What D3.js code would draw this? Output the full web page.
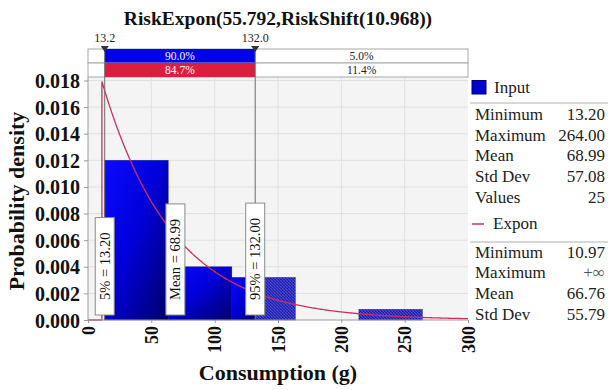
<!DOCTYPE html>
<html>
<head>
<meta charset="utf-8">
<script src="https://cdn.jsdelivr.net/npm/d3@7"></script>
<style>
  html, body { margin: 0; padding: 0; background: #fff; }
  svg { display: block; font-family: "Liberation Serif", "Times New Roman", serif; }
</style>
</head>
<body>
<svg id="chart" width="608" height="390"></svg>
<script>
// Histogram bins of the input sample (density per bin)
const binEdges = [13.2, 63.36, 113.52, 163.68, 213.84, 264.0];
const binDensity = [0.0120, 0.0040, 0.0032, 0.0, 0.0008];

// Fitted exponential: RiskExpon(beta) shifted by RiskShift(shift)
const expBeta = 55.792;
const expShift = 10.968;

// Percentile markers and band percentages
const markers = [
  { value: 13.2, top: "13.2", box: "5% = 13.20" },
  { value: 132.0, top: "132.0", box: "95% = 132.00" }
];
const meanValue = 68.99;
const meanLabel = "Mean = 68.99";
const inputBand = ["5.0%", "90.0%", "5.0%"];
const fitBand = ["3.9%", "84.7%", "11.4%"];

// Axis ticks
const xTicks = [0, 50, 100, 150, 200, 250, 300];
const yTicks = [0, 0.002, 0.004, 0.006, 0.008, 0.010, 0.012, 0.014, 0.016, 0.018];

// Legend statistics
const inputStats = [["Minimum", "13.20"], ["Maximum", "264.00"], ["Mean", "68.99"], ["Std Dev", "57.08"], ["Values", "25"]];
const fitStats = [["Minimum", "10.97"], ["Maximum", "+\u221E"], ["Mean", "66.76"], ["Std Dev", "55.79"]];

const svg = d3.select("#chart");
const x = d3.scaleLinear().domain([0, 300]).range([88, 468]);
const y = d3.scaleLinear().domain([0, 0.018]).range([320, 80.5]);
const plotTop = 77;

const defs = svg.append("defs");
const grad = defs.append("linearGradient").attr("id", "barGrad")
  .attr("x1", 0).attr("y1", 0).attr("x2", 1).attr("y2", 1);
grad.append("stop").attr("offset", 0).attr("stop-color", "#0a0aff");
grad.append("stop").attr("offset", 0.45).attr("stop-color", "#0000dc");
grad.append("stop").attr("offset", 1).attr("stop-color", "#00006a");

const pat = defs.append("pattern").attr("id", "hatch")
  .attr("patternUnits", "userSpaceOnUse").attr("width", 3).attr("height", 3);
pat.append("rect").attr("width", 3).attr("height", 3).attr("fill", "#2c2cc0");
pat.append("path").attr("d", "M0,3 L3,0 M-1,1 L1,-1 M2,4 L4,2").attr("stroke", "#1a1a8a").attr("stroke-width", 0.8);
pat.append("path").attr("d", "M0,0 L3,3").attr("stroke", "#5a5ae6").attr("stroke-width", 0.7);

// Title
svg.append("text").attr("x", 278).attr("y", 25).attr("text-anchor", "middle")
  .attr("font-size", 19.5).attr("font-weight", "bold").attr("fill", "#111")
  .text("RiskExpon(55.792,RiskShift(10.968))");

// Plot background and grid
svg.append("rect").attr("x", x(0)).attr("y", plotTop).attr("width", x(300) - x(0)).attr("height", y(0) - plotTop)
  .attr("fill", "#f4f4f4");
svg.append("g").selectAll("line").data(xTicks.slice(1, -1)).join("line")
  .attr("x1", d => x(d)).attr("x2", d => x(d)).attr("y1", plotTop).attr("y2", y(0))
  .attr("stroke", "#e0e0e0").attr("stroke-width", 1);
svg.append("g").selectAll("line").data(yTicks.slice(1)).join("line")
  .attr("x1", x(0)).attr("x2", x(300)).attr("y1", d => y(d)).attr("y2", d => y(d))
  .attr("stroke", "#e0e0e0").attr("stroke-width", 1);

// Histogram bars
const bins = binDensity.map((d, i) => ({ x0: binEdges[i], x1: binEdges[i + 1], d }));
const lo = markers[0].value, hi = markers[1].value;
const barG = svg.append("g");
bins.filter(b => b.d > 0).forEach(b => {
  const a = Math.max(b.x0, lo), c = Math.min(b.x1, hi);
  if (c > a) {
    barG.append("rect").attr("x", x(a)).attr("y", y(b.d)).attr("width", x(c) - x(a)).attr("height", y(0) - y(b.d))
      .attr("fill", "url(#barGrad)");
  }
  if (b.x1 > hi) {
    const s = Math.max(b.x0, hi);
    barG.append("rect").attr("x", x(s)).attr("y", y(b.d)).attr("width", x(b.x1) - x(s)).attr("height", y(0) - y(b.d))
      .attr("fill", "url(#hatch)");
  }
  barG.append("rect").attr("x", x(b.x0)).attr("y", y(b.d)).attr("width", x(b.x1) - x(b.x0)).attr("height", y(0) - y(b.d))
    .attr("fill", "none").attr("stroke", "#000060").attr("stroke-width", 0.6).attr("stroke-opacity", 0.6);
});

// Fitted density curve
const pdf = v => v < expShift ? 0 : Math.exp(-(v - expShift) / expBeta) / expBeta;
const curvePts = [[0, 0], [expShift, 0], [expShift, pdf(expShift)]];
for (let v = expShift; v <= 300; v += 1) curvePts.push([v, pdf(v)]);
curvePts.push([300, pdf(300)]);
svg.append("path").datum(curvePts)
  .attr("d", d3.line().x(d => x(d[0])).y(d => y(d[1])))
  .attr("fill", "none").attr("stroke", "#c8325c").attr("stroke-width", 1.3);

// Axes
svg.append("line").attr("x1", x(0)).attr("x2", x(0)).attr("y1", plotTop).attr("y2", y(0)).attr("stroke", "#9a9a9a");
svg.append("line").attr("x1", x(0)).attr("x2", x(300)).attr("y1", y(0)).attr("y2", y(0)).attr("stroke", "#9a9a9a");
const yAxis = svg.append("g").attr("transform", `translate(${x(0)},0)`)
  .call(d3.axisLeft(y).tickValues(yTicks).tickFormat(d3.format(".3f")).tickSize(4));
yAxis.select(".domain").remove();
yAxis.selectAll("line").attr("stroke", "#9a9a9a");
yAxis.selectAll("text").attr("font-family", "Liberation Serif").attr("font-size", 20).attr("font-weight", "bold")
  .attr("fill", "#111").attr("x", -8).attr("dy", "0.35em");

const xAxis = svg.append("g").attr("transform", `translate(0,${y(0)})`)
  .call(d3.axisBottom(x).tickValues(xTicks).tickFormat(d3.format("d")).tickSize(3));
xAxis.select(".domain").remove();
xAxis.selectAll("line").attr("stroke", "#9a9a9a");
xAxis.selectAll("text").attr("font-family", "Liberation Serif").attr("font-size", 18).attr("font-weight", "bold")
  .attr("fill", "#111").attr("text-anchor", "end").attr("dy", "0.35em")
  .attr("transform", "rotate(-90)").attr("x", -6).attr("y", 0);

svg.append("text").attr("transform", "translate(24,201) rotate(-90)").attr("text-anchor", "middle")
  .attr("font-size", 22).attr("font-weight", "bold").attr("fill", "#111").text("Probability density");
svg.append("text").attr("x", 278).attr("y", 380).attr("text-anchor", "middle")
  .attr("font-size", 22).attr("font-weight", "bold").attr("fill", "#111").text("Consumption (g)");

// Percentile bands above the plot
const bandRows = [
  { y0: 49, vals: inputBand, fill: "#0000ee" },
  { y0: 63, vals: fitBand, fill: "#dc1e3e" }
];
const bandH = 14;
bandRows.forEach(r => {
  svg.append("rect").attr("x", x(0)).attr("y", r.y0).attr("width", x(300) - x(0)).attr("height", bandH)
    .attr("fill", "#fff").attr("stroke", "#a8a8a8");
  svg.append("rect").attr("x", x(lo)).attr("y", r.y0).attr("width", x(hi) - x(lo)).attr("height", bandH)
    .attr("fill", r.fill);
  svg.append("text").attr("x", (x(lo) + x(hi)) / 2).attr("y", r.y0 + 11).attr("text-anchor", "middle")
    .attr("font-size", 11.5).attr("fill", "#fff").text(r.vals[1]);
  svg.append("text").attr("x", (x(hi) + x(300)) / 2).attr("y", r.y0 + 11).attr("text-anchor", "middle")
    .attr("font-size", 11.5).attr("fill", "#222").text(r.vals[2]);
});

// Marker lines, triangles and labels
markers.forEach(m => {
  svg.append("line").attr("x1", x(m.value)).attr("x2", x(m.value)).attr("y1", 47).attr("y2", y(0))
    .attr("stroke", "#6a6a6a").attr("stroke-width", 1);
  svg.append("path").attr("d", `M${x(m.value) - 4},46 L${x(m.value) + 4},46 L${x(m.value)},52 Z`).attr("fill", "#333");
  svg.append("text").attr("x", x(m.value)).attr("y", 42).attr("text-anchor", "middle")
    .attr("font-size", 12).attr("fill", "#222").text(m.top);
});

// Rotated value boxes
const boxes = [
  { value: markers[0].value, label: markers[0].box },
  { value: meanValue, label: meanLabel },
  { value: markers[1].value, label: markers[1].box }
];
boxes.forEach(b => {
  const g = svg.append("g");
  const bottom = 315, w = 19;
  const t = g.append("text").attr("font-size", 14.5).attr("fill", "#111").text(b.label);
  const len = t.node().getComputedTextLength();
  const h = len + 30;
  g.insert("rect", "text").attr("x", x(b.value) - w / 2).attr("y", bottom - h).attr("width", w).attr("height", h)
    .attr("fill", "#fff").attr("stroke", "#8a8a8a").attr("stroke-width", 1);
  t.attr("text-anchor", "middle").attr("dy", "0.35em")
    .attr("transform", `translate(${x(b.value)},${bottom - h / 2}) rotate(-90)`);
});

// Legend
const lg = svg.append("g");
lg.append("rect").attr("x", 472).attr("y", 80.5).attr("width", 14).attr("height", 13.5)
  .attr("fill", "#0000d0").attr("stroke", "#000070");
lg.append("text").attr("x", 494).attr("y", 93).attr("font-size", 17).attr("fill", "#222").text("Input");
lg.append("line").attr("x1", 470).attr("x2", 608).attr("y1", 103).attr("y2", 103).attr("stroke", "#b0b0b0");
inputStats.forEach((s, i) => {
  const yy = 120 + i * 20.7;
  lg.append("text").attr("x", 475).attr("y", yy).attr("font-size", 17).attr("fill", "#222").text(s[0]);
  lg.append("text").attr("x", 605).attr("y", yy).attr("text-anchor", "end").attr("font-size", 17).attr("fill", "#222").text(s[1]);
});
lg.append("line").attr("x1", 472).attr("x2", 484).attr("y1", 224).attr("y2", 224).attr("stroke", "#c8325c").attr("stroke-width", 1.5);
lg.append("text").attr("x", 493).attr("y", 229).attr("font-size", 17).attr("fill", "#222").text("Expon");
lg.append("line").attr("x1", 470).attr("x2", 608).attr("y1", 242).attr("y2", 242).attr("stroke", "#b0b0b0");
fitStats.forEach((s, i) => {
  const yy = 257.5 + i * 20.7;
  lg.append("text").attr("x", 475).attr("y", yy).attr("font-size", 17).attr("fill", "#222").text(s[0]);
  lg.append("text").attr("x", 605).attr("y", yy).attr("text-anchor", "end").attr("font-size", 17)
    .attr("fill", s[1].startsWith("+") ? "#555" : "#222").text(s[1]);
});
</script>
</body>
</html>
